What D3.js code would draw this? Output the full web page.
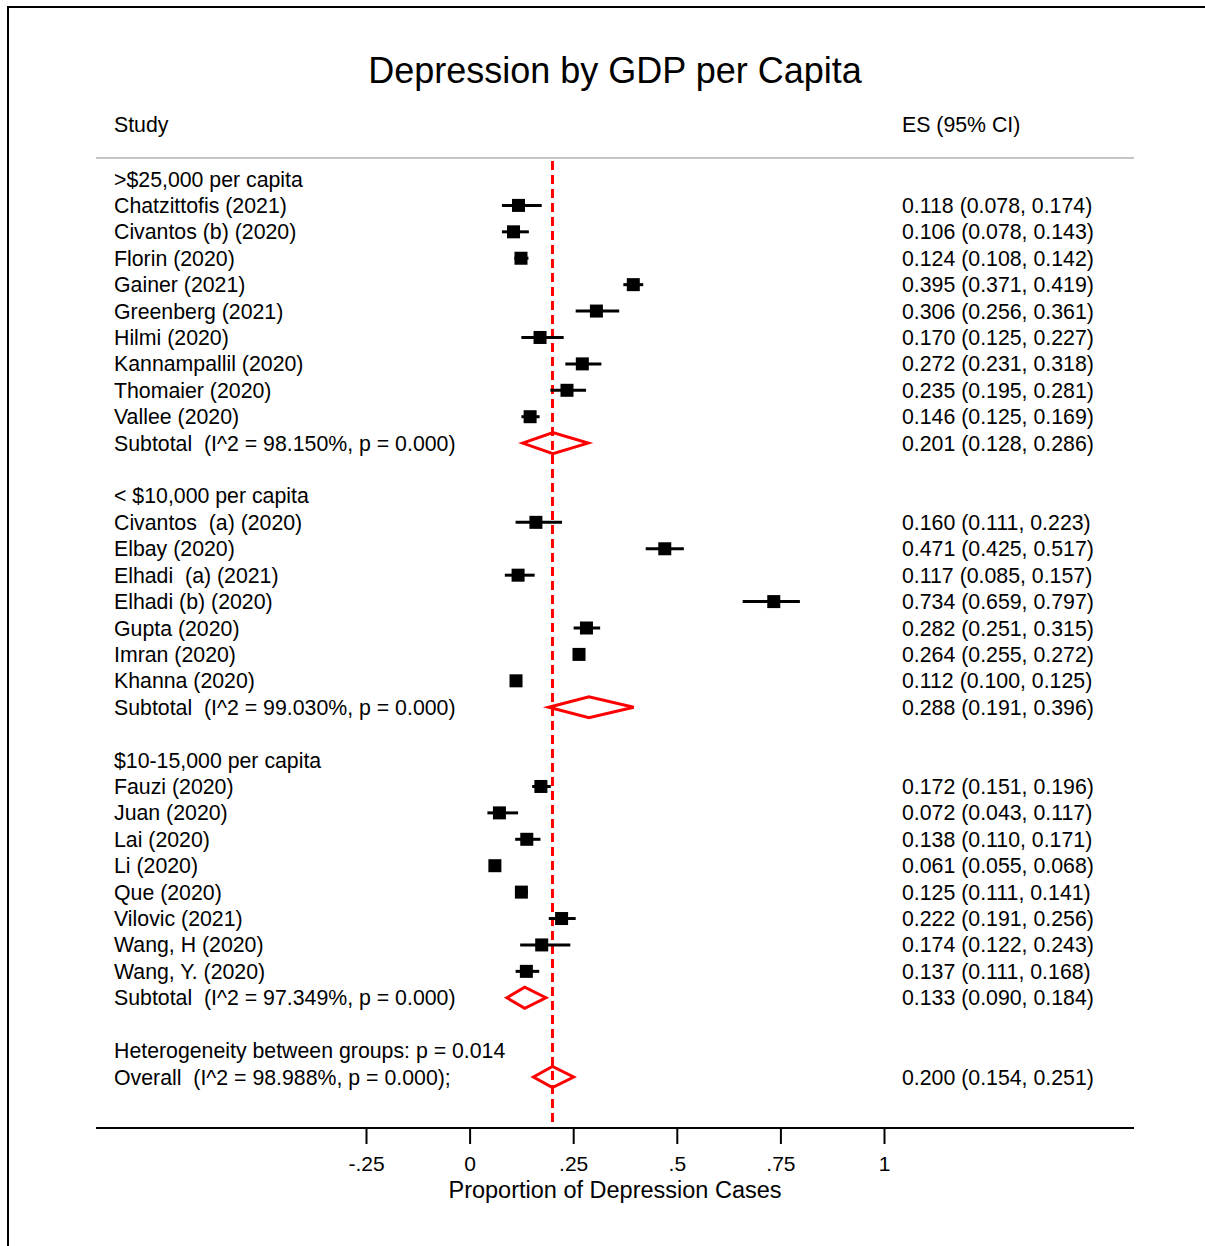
<!DOCTYPE html>
<html>
<head>
<meta charset="utf-8">
<script src="https://cdn.jsdelivr.net/npm/d3@7"></script>
<style>
  html, body { margin: 0; padding: 0; background: #fff; }
  svg text { font-family: "Liberation Sans", Arial, Helvetica, sans-serif; white-space: pre; }
</style>
</head>
<body>
<svg id="chart" width="1205" height="1246"></svg>
<script>
// Forest plot: prevalence of depression, grouped by GDP per capita
const groups = [">$25,000 per capita", "< $10,000 per capita", "$10-15,000 per capita"];

const studiesHigh = ["Chatzittofis (2021)", "Civantos (b) (2020)", "Florin (2020)", "Gainer (2021)",
  "Greenberg (2021)", "Hilmi (2020)", "Kannampallil (2020)", "Thomaier (2020)", "Vallee (2020)"];
const esHigh = [0.118, 0.106, 0.124, 0.395, 0.306, 0.170, 0.272, 0.235, 0.146];
const loHigh = [0.078, 0.078, 0.108, 0.371, 0.256, 0.125, 0.231, 0.195, 0.125];
const hiHigh = [0.174, 0.143, 0.142, 0.419, 0.361, 0.227, 0.318, 0.281, 0.169];

const studiesLow = ["Civantos  (a) (2020)", "Elbay (2020)", "Elhadi  (a) (2021)", "Elhadi (b) (2020)",
  "Gupta (2020)", "Imran (2020)", "Khanna (2020)"];
const esLow = [0.160, 0.471, 0.117, 0.734, 0.282, 0.264, 0.112];
const loLow = [0.111, 0.425, 0.085, 0.659, 0.251, 0.255, 0.100];
const hiLow = [0.223, 0.517, 0.157, 0.797, 0.315, 0.272, 0.125];

const studiesMid = ["Fauzi (2020)", "Juan (2020)", "Lai (2020)", "Li (2020)", "Que (2020)",
  "Vilovic (2021)", "Wang, H (2020)", "Wang, Y. (2020)"];
const esMid = [0.172, 0.072, 0.138, 0.061, 0.125, 0.222, 0.174, 0.137];
const loMid = [0.151, 0.043, 0.110, 0.055, 0.111, 0.191, 0.122, 0.111];
const hiMid = [0.196, 0.117, 0.171, 0.068, 0.141, 0.256, 0.243, 0.168];

const subtotalLabels = ["Subtotal  (I^2 = 98.150%, p = 0.000)", "Subtotal  (I^2 = 99.030%, p = 0.000)",
  "Subtotal  (I^2 = 97.349%, p = 0.000)"];
const subtotalEs = [0.201, 0.288, 0.133];
const subtotalLo = [0.128, 0.191, 0.090];
const subtotalHi = [0.286, 0.396, 0.184];

const heterogeneityLabel = "Heterogeneity between groups: p = 0.014";
const overallLabel = "Overall  (I^2 = 98.988%, p = 0.000);";
const overallEs = 0.200, overallLo = 0.154, overallHi = 0.251;

const tickValues = [-0.25, 0, 0.25, 0.5, 0.75, 1];
const tickLabels = ["-.25", "0", ".25", ".5", ".75", "1"];

// Build the row table
const rows = [];
const studySets = [
  [studiesHigh, esHigh, loHigh, hiHigh],
  [studiesLow, esLow, loLow, hiLow],
  [studiesMid, esMid, loMid, hiMid]
];
studySets.forEach(([names, es, lo, hi], g) => {
  rows.push({ type: "header", label: groups[g] });
  names.forEach((n, i) => rows.push({ type: "study", label: n, es: es[i], lo: lo[i], hi: hi[i] }));
  rows.push({ type: "subtotal", label: subtotalLabels[g], es: subtotalEs[g], lo: subtotalLo[g], hi: subtotalHi[g] });
  rows.push({ type: "blank" });
});
rows.push({ type: "header", label: heterogeneityLabel });
rows.push({ type: "subtotal", label: overallLabel, es: overallEs, lo: overallLo, hi: overallHi });

const fmt = d3.format(".3f");
const svg = d3.select("#chart");

const x = d3.scaleLinear().domain([-0.25, 1]).range([366, 884]);
const y = d3.scaleLinear().domain([0, rows.length - 1]).range([179, 1077]);

const plotLeft = 96, plotRight = 1134, headerY = 158, axisY = 1128;
const labelX = 114, esX = 902;
const fs = 21.3;

// Frame
svg.append("path")
  .attr("d", "M8,1246 L8,7 L1205,7")
  .attr("fill", "none").attr("stroke", "#000").attr("stroke-width", 2);

// Title
svg.append("text").attr("x", 615).attr("y", 83).attr("text-anchor", "middle")
  .attr("font-size", 36).text("Depression by GDP per Capita");

// Column headers
svg.append("text").attr("x", labelX).attr("y", 132).attr("font-size", fs).text("Study");
svg.append("text").attr("x", esX).attr("y", 132).attr("font-size", fs).text("ES (95% CI)");
svg.append("line").attr("x1", plotLeft).attr("x2", plotRight).attr("y1", headerY).attr("y2", headerY)
  .attr("stroke", "#c4c4c4").attr("stroke-width", 2);

// Reference line at overall estimate
svg.append("line").attr("x1", x(overallEs)).attr("x2", x(overallEs))
  .attr("y1", 161).attr("y2", axisY)
  .attr("stroke", "#ff0000").attr("stroke-width", 3).attr("stroke-dasharray", "9,5");

// Row labels
svg.append("g").selectAll("text").data(rows.filter(r => r.type !== "blank")).join("text")
  .attr("x", labelX).attr("y", (d) => y(rows.indexOf(d)) + 7.5)
  .attr("font-size", fs).text(d => d.label);

// Estimate text
svg.append("g").selectAll("text").data(rows.filter(r => r.es !== undefined)).join("text")
  .attr("x", esX).attr("y", d => y(rows.indexOf(d)) + 7.5)
  .attr("font-size", fs)
  .text(d => `${fmt(d.es)} (${fmt(d.lo)}, ${fmt(d.hi)})`);

// Study CIs and boxes
const studyRows = rows.filter(r => r.type === "study");
const box = 13;
svg.append("g").selectAll("line").data(studyRows).join("line")
  .attr("x1", d => x(d.lo)).attr("x2", d => x(d.hi))
  .attr("y1", d => y(rows.indexOf(d))).attr("y2", d => y(rows.indexOf(d)))
  .attr("stroke", "#000").attr("stroke-width", 3);
svg.append("g").selectAll("rect").data(studyRows).join("rect")
  .attr("x", d => x(d.es) - box / 2).attr("y", d => y(rows.indexOf(d)) - box / 2)
  .attr("width", box).attr("height", box).attr("fill", "#000");

// Pooled diamonds
const dh = 10.5;
svg.append("g").selectAll("path").data(rows.filter(r => r.type === "subtotal")).join("path")
  .attr("d", d => {
    const cy = y(rows.indexOf(d));
    return `M${x(d.lo)},${cy}L${x(d.es)},${cy - dh}L${x(d.hi)},${cy}L${x(d.es)},${cy + dh}Z`;
  })
  .attr("fill", "none").attr("stroke", "#ff0000").attr("stroke-width", 3);

// Axis
svg.append("line").attr("x1", plotLeft).attr("x2", plotRight).attr("y1", axisY).attr("y2", axisY)
  .attr("stroke", "#000").attr("stroke-width", 2);
const axis = d3.axisBottom(x).tickValues(tickValues).tickSize(16).tickPadding(12)
  .tickFormat((d, i) => tickLabels[i]);
const ax = svg.append("g").attr("transform", `translate(0,${axisY})`).call(axis);
ax.select(".domain").remove();
ax.selectAll(".tick line").attr("stroke", "#000").attr("stroke-width", 2);
ax.selectAll(".tick text").attr("font-size", 21).attr("fill", "#000")
  .attr("font-family", "Liberation Sans, Arial, sans-serif");

svg.append("text").attr("x", 615).attr("y", 1198).attr("text-anchor", "middle")
  .attr("font-size", 23.5).text("Proportion of Depression Cases");
</script>
</body>
</html>
